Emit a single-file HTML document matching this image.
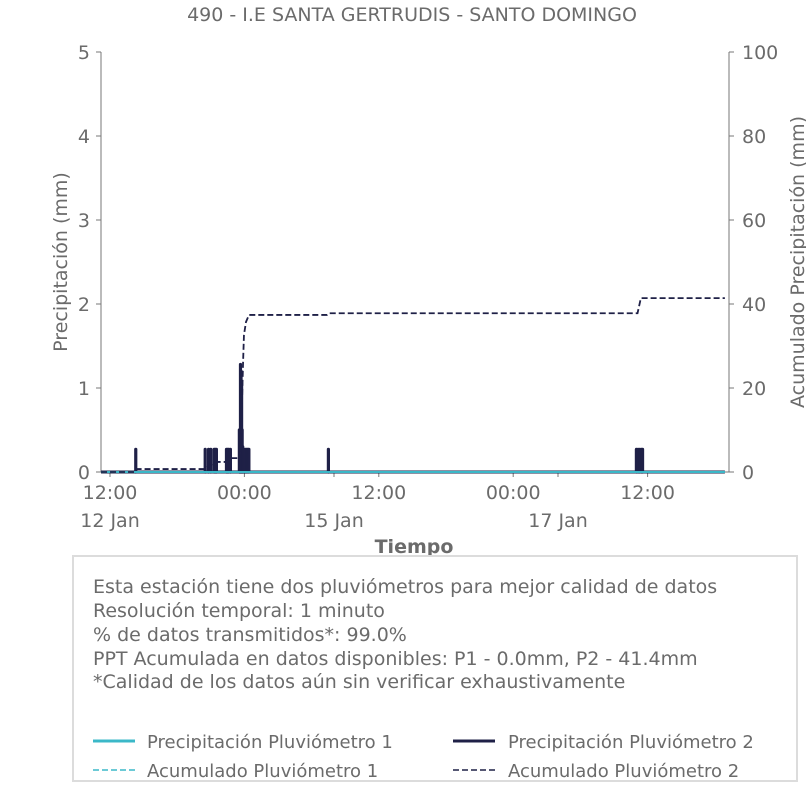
<!DOCTYPE html>
<html><head><meta charset="utf-8"><style>
body{margin:0;background:#fff;width:806px;height:806px;overflow:hidden;font-family:"Liberation Sans","DejaVu Sans",sans-serif}
svg text{font-family:"DejaVu Sans","Liberation Sans",sans-serif;fill:#6b6b6b}
</style></head><body>
<svg id="chart" width="806" height="806">
<text x="412" y="21" text-anchor="middle" font-size="19">490 - I.E SANTA GERTRUDIS - SANTO DOMINGO</text>
<g id="axes"></g>
<g id="series"></g>
<text transform="translate(67,262) rotate(-90)" text-anchor="middle" font-size="19">Precipitación (mm)</text>
<text transform="translate(804,262) rotate(-90)" text-anchor="middle" font-size="19">Acumulado Precipitación (mm)</text>
<text x="414" y="553" text-anchor="middle" font-size="19" font-weight="bold">Tiempo</text>
<rect x="73" y="556" width="724" height="225" fill="#fff" stroke="#dcdcdc" stroke-width="2"/>
<g font-size="19">
<text x="93" y="593">Esta estación tiene dos pluviómetros para mejor calidad de datos</text>
<text x="93" y="617">Resolución temporal: 1 minuto</text>
<text x="93" y="641">% de datos transmitidos*: 99.0%</text>
<text x="93" y="665">PPT Acumulada en datos disponibles: P1 - 0.0mm, P2 - 41.4mm</text>
<text x="93" y="688">*Calidad de los datos aún sin verificar exhaustivamente</text>
</g>
<g font-size="18">
<line x1="93" y1="741" x2="135" y2="741" stroke="#3bb8c8" stroke-width="3"/>
<text x="147" y="748">Precipitación Pluviómetro 1</text>
<line x1="453" y1="741" x2="495" y2="741" stroke="#1f2047" stroke-width="3"/>
<text x="508" y="748">Precipitación Pluviómetro 2</text>
<line x1="93" y1="770" x2="135" y2="770" stroke="#3bb8c8" stroke-width="1.6" stroke-dasharray="6,3"/>
<text x="147" y="777">Acumulado Pluviómetro 1</text>
<line x1="453" y1="770" x2="495" y2="770" stroke="#1f2047" stroke-width="1.6" stroke-dasharray="6,3"/>
<text x="508" y="777">Acumulado Pluviómetro 2</text>
</g>
</svg>
<script>
// hours relative to 12 Jan 12:00
const yTicks=[0,1,2,3,4,5];
const y2Ticks=[0,20,40,60,80,100];
const xTickHours=[0,12,24,36,48];
const xTickLabels=["12:00","00:00","12:00","00:00","12:00"];
const dateTickHours=[0,20,40];
const dateTickLabels=["12 Jan","15 Jan","17 Jan"];
const p2Hours=[2.3,8.5,8.8,9.0,9.3,9.4,9.5,10.4,10.5,10.6,10.75,11.55,11.6,11.65,11.7,11.75,11.8,11.85,11.9,12.0,12.1,12.2,12.3,12.4,19.5,47.0,47.15,47.3,47.45,47.55];
const p2Values=[0.27,0.27,0.27,0.27,0.27,0.27,0.27,0.27,0.27,0.27,0.27,0.5,0.5,1.28,1.2,1.05,0.5,0.3,0.27,0.27,0.27,0.27,0.27,0.27,0.27,0.27,0.27,0.27,0.27,0.27];
const acc2Hours=[-0.8,2.2,2.4,8.4,8.9,9.5,10.4,10.8,11.6,11.79,11.88,11.96,12.14,12.41,19.4,19.6,47.1,47.4,54.9];
const acc2Values=[0,0,0.7,0.7,1.5,2.4,2.4,3.3,3.3,17,26,32.6,35.7,37.4,37.4,37.8,37.8,41.4,41.4];
const p1Hours=[-0.8,54.9];
const p1Values=[0,0];
const acc1Values=[0,0];

const NS="http://www.w3.org/2000/svg";
const X0=101,X1=729,Y0=472;
const xs=h=>110+h*11.2;
const ys=v=>Y0-v*84;
const ys2=v=>Y0-v*4.2;
function mk(t,a,p){const e=document.createElementNS(NS,t);for(const k in a)e.setAttribute(k,a[k]);p.appendChild(e);return e;}
const ax=document.getElementById('axes'),se=document.getElementById('series');
const gc="#777";
let l=mk('line',{x1:X0,y1:52,x2:X0,y2:Y0,stroke:gc,'stroke-width':1},ax);


l=mk('line',{x1:X1,y1:52,x2:X1,y2:Y0,stroke:gc,'stroke-width':1},ax);


l=mk('line',{x1:X0,y1:Y0,x2:X1,y2:Y0,stroke:gc,'stroke-width':1},ax);


yTicks.forEach(v=>{const y=ys(v);mk('line',{x1:X0-5,y1:y,x2:X0,y2:y,stroke:gc},ax);
 const t=mk('text',{x:90,y:y+7,'text-anchor':'end','font-size':19},ax);t.textContent=v;
 
 });
y2Ticks.forEach(v=>{const y=ys2(v);mk('line',{x1:X1,y1:y,x2:X1+5,y2:y,stroke:gc},ax);
 const t=mk('text',{x:742,y:y+7,'font-size':19},ax);t.textContent=v;
 
 });
xTickHours.forEach((h,i)=>{const x=xs(h);mk('line',{x1:x,y1:Y0,x2:x,y2:Y0+5,stroke:gc},ax);
 const t=mk('text',{x:x,y:499,'text-anchor':'middle','font-size':19},ax);t.textContent=xTickLabels[i];
 
 });
dateTickHours.forEach((h,i)=>{const x=xs(h);mk('line',{x1:x,y1:Y0,x2:x,y2:Y0+5,stroke:gc},ax);
 const t=mk('text',{x:x,y:527,'text-anchor':'middle','font-size':19},ax);t.textContent=dateTickLabels[i];
 
 });
// P2 bars
p2Hours.forEach((h,i)=>{const x=xs(h);
 const b=mk('line',{x1:x,y1:Y0,x2:x,y2:ys(p2Values[i]),stroke:'#1f2047','stroke-width':3.2,'stroke-linecap':'round'},se);
 
 });
// P2 baseline
let pl=mk('polyline',{points:p1Hours.map(h=>xs(h)+','+ys(0)).join(' '),fill:'none',stroke:'#1f2047','stroke-width':3},se);


// P1
pl=mk('polyline',{points:p1Hours.map((h,i)=>xs(h)+','+ys(p1Values[i])).join(' '),fill:'none',stroke:'#3bb8c8','stroke-width':2},se);


pl=mk('polyline',{points:p1Hours.map((h,i)=>xs(h)+','+ys2(acc1Values[i])).join(' '),fill:'none',stroke:'#3bb8c8','stroke-width':1.6,'stroke-dasharray':'6,3'},se);


pl=mk('polyline',{points:acc2Hours.map((h,i)=>xs(h)+','+ys2(acc2Values[i])).join(' '),fill:'none',stroke:'#1f2047','stroke-width':1.8,'stroke-dasharray':'6,3'},se);


</script>
</body></html>
